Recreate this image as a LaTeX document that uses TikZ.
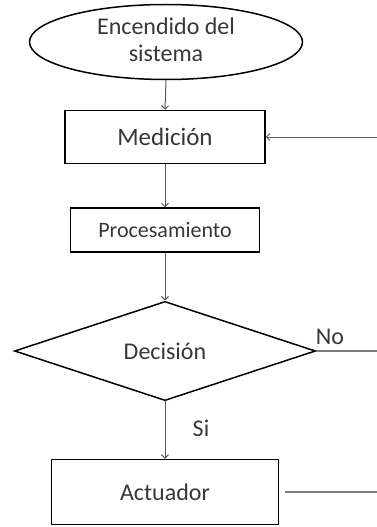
\documentclass[tikz,border=0pt]{standalone}
\usepackage{fontspec}
\setmainfont{Carlito}
\usepackage{xcolor}
\usetikzlibrary{arrows.meta,shapes.geometric}
\definecolor{lngray}{RGB}{90,90,90}
\definecolor{txgray}{RGB}{55,55,55}

\begin{document}
\begin{tikzpicture}[
  x=1pt, y=-1pt,
  box/.style={draw, rectangle, inner sep=0pt, line width=1.5pt, align=center, text=txgray},
  ell/.style={draw, ellipse, inner sep=0pt, line width=1.5pt, align=center, text=txgray},
  dia/.style={draw, diamond, inner sep=0pt, line width=1.5pt, text=txgray},
  >={Straight Barb[length=3.5pt,width=7pt]},
  arrline/.style={->, line width=1pt, color=lngray},
  retline/.style={line width=1.2pt, color=lngray!80},
]
\useasboundingbox (0,0) rectangle (377,527);

% ============ Start ============
\node[ell, minimum width=273pt, minimum height=75pt, font=\fontsize{24}{27}\selectfont,
      text depth=4pt] (encendido) at (166,42) {Encendido del\\sistema};

% ============ Process boxes ============
\node[box, minimum width=200pt, minimum height=53pt, font=\fontsize{25}{28}\selectfont] (medicion) at (165,137) {Medición};
\node[box, minimum width=189pt, minimum height=44pt, font=\fontsize{22}{24}\selectfont] (procesamiento) at (165,230) {Procesamiento};

% ============ Decision ============
\node[dia, minimum width=301pt, minimum height=98pt, font=\fontsize{24}{26}\selectfont] (decision) at (165,351) {Decisión};
\node[font=\fontsize{24}{26}\selectfont, text=txgray] (nolabel) at (330,337) {No};

% ============ Actuator ============
\node[box, minimum width=227pt, minimum height=65pt, font=\fontsize{24}{26}\selectfont] (actuador) at (165,492) {Actuador};
\node[font=\fontsize{24}{26}\selectfont, text=txgray] (silabel) at (201,428) {Si};

% ===================== ARROWS =====================
\draw[arrline] (encendido.south) -- (medicion.north);
\draw[arrline] (medicion.south) -- (procesamiento.north);
\draw[arrline] (procesamiento.south) -- (decision.north);
\draw[arrline] (decision.south) -- (actuador.north);

% return paths (cut at the right edge)
\coordinate (retmed) at (377,137);
\draw[arrline] (retmed) -- (medicion.east);
\coordinate (retno) at (377,351);
\draw[retline] (decision.east) -- (retno);
\coordinate (retact) at (377,492);
\draw[retline] ([xshift=6pt]actuador.east) -- (retact);

\end{tikzpicture}
\end{document}
